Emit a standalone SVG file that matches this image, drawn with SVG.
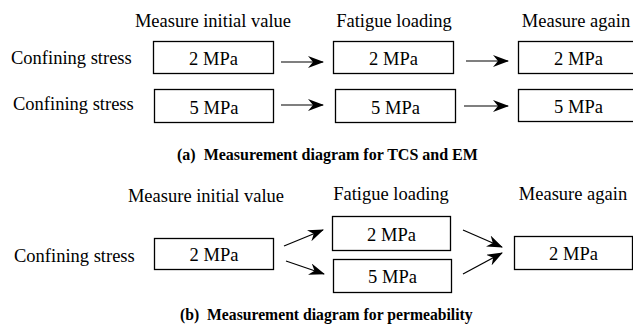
<svg xmlns="http://www.w3.org/2000/svg" width="633" height="327" viewBox="0 0 633 327">
  <defs>
    <style>
      text { font-family: "Liberation Serif", serif; fill: #000; }
      .lbl { font-size: 18.5px; }
      .mid { text-anchor: middle; }
      .cap { font-size: 15.7px; font-weight: bold; }
      .box { fill: #fff; stroke: #000; stroke-width: 1.3; }
      .arr { stroke: #000; stroke-width: 1.2; fill: none; marker-end: url(#head); }
    </style>
    <marker id="head" viewBox="0 0 16 12" refX="15" refY="6" markerWidth="16" markerHeight="12" markerUnits="userSpaceOnUse" orient="auto">
      <path d="M0,0 L16,6 L0,12 L5,6 Z" fill="#000"/>
    </marker>
  </defs>
  <rect width="633" height="327" fill="#fff"/>

  <!-- (a) TCS and EM -->
  <g id="a-headers">
    <text class="lbl mid" x="213" y="27">Measure initial value</text>
    <text class="lbl mid" x="394" y="27">Fatigue loading</text>
    <text class="lbl mid" x="576" y="27">Measure again</text>
  </g>
  <g id="a-row1-label"><text class="lbl" x="11" y="64">Confining stress</text></g>
  <g id="a-row2-label"><text class="lbl" x="13" y="110">Confining stress</text></g>

  <g id="a-init-2"><rect class="box" x="153.5" y="41.5" width="120" height="32"/><text class="lbl mid" x="213.5" y="65">2 MPa</text></g>
  <g id="a-init-5"><rect class="box" x="154.5" y="89.5" width="119" height="33"/><text class="lbl mid" x="214" y="114">5 MPa</text></g>
  <g id="a-load-2"><rect class="box" x="333.5" y="41.5" width="120" height="32"/><text class="lbl mid" x="393.5" y="65">2 MPa</text></g>
  <g id="a-load-5"><rect class="box" x="335.5" y="89.5" width="120" height="33"/><text class="lbl mid" x="395.5" y="114">5 MPa</text></g>
  <g id="a-again-2"><rect class="box" x="518.5" y="41.5" width="120" height="32"/><text class="lbl mid" x="578.5" y="65">2 MPa</text></g>
  <g id="a-again-5"><rect class="box" x="518.5" y="89.5" width="120" height="32"/><text class="lbl mid" x="578.5" y="113">5 MPa</text></g>

  <g id="a-caption"><text class="cap" x="177" y="160" style="font-size:16px" xml:space="preserve">(a)  Measurement diagram for TCS and EM</text></g>

  <!-- (b) permeability -->
  <g id="b-headers">
    <text class="lbl mid" x="206" y="202">Measure initial value</text>
    <text class="lbl mid" x="391" y="200">Fatigue loading</text>
    <text class="lbl mid" x="573" y="200">Measure again</text>
  </g>
  <g id="b-label"><text class="lbl" x="14" y="262">Confining stress</text></g>
  <g id="b-init-2"><rect class="box" x="154.5" y="238.5" width="119" height="31"/><text class="lbl mid" x="214" y="261">2 MPa</text></g>
  <g id="b-load-2"><rect class="box" x="332.5" y="216.5" width="118" height="34"/><text class="lbl mid" x="391.5" y="241">2 MPa</text></g>
  <g id="b-load-5"><rect class="box" x="333.5" y="259.5" width="118" height="33"/><text class="lbl mid" x="392.5" y="283">5 MPa</text></g>
  <g id="b-again-2"><rect class="box" x="514.5" y="236.5" width="118" height="33"/><text class="lbl mid" x="573.5" y="260">2 MPa</text></g>

  <g id="b-caption"><text class="cap" x="180" y="320" xml:space="preserve">(b)  Measurement diagram for permeability</text></g>

  <!-- connectors -->
  <g id="connectors">
    <line class="arr" x1="281" y1="62" x2="323" y2="62"/>
    <line class="arr" x1="281" y1="105" x2="323" y2="105"/>
    <line class="arr" x1="466" y1="61" x2="508" y2="61"/>
    <line class="arr" x1="464" y1="106" x2="508" y2="106"/>
    <line class="arr" x1="284" y1="246" x2="323" y2="230"/>
    <line class="arr" x1="286" y1="261" x2="324" y2="274"/>
    <line class="arr" x1="463" y1="230" x2="502" y2="247"/>
    <line class="arr" x1="463" y1="274" x2="502" y2="253"/>
  </g>
</svg>
